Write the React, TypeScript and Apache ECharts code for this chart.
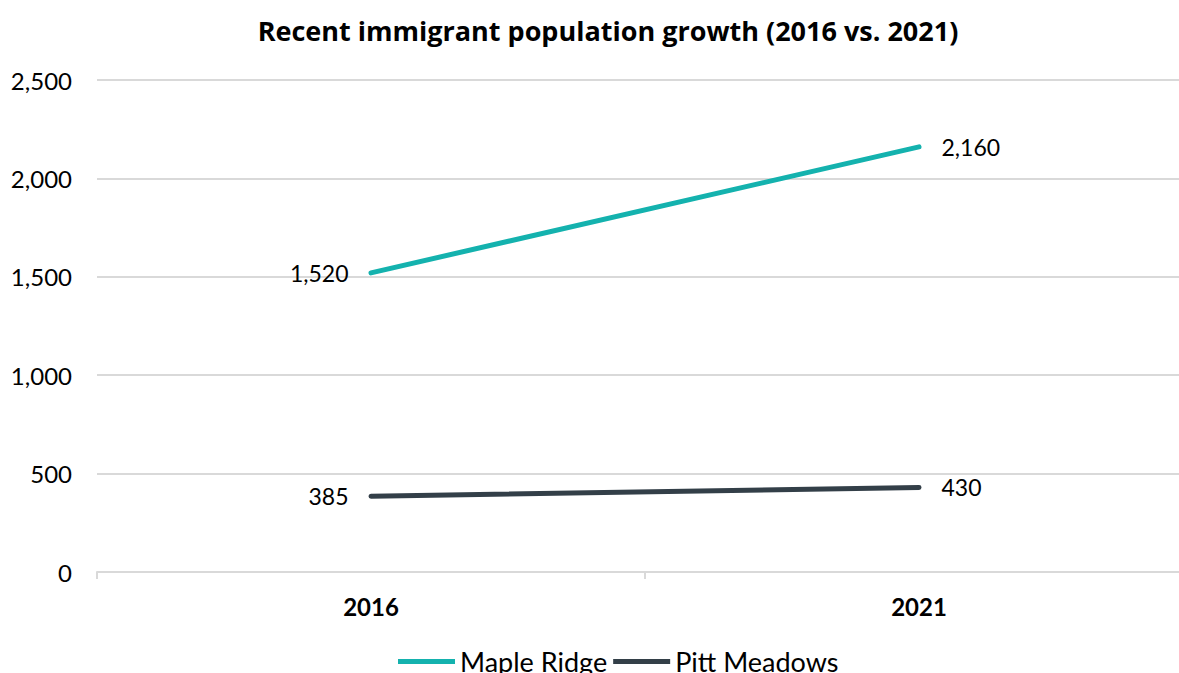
import React, { useEffect, useRef } from "react";
import * as echarts from "echarts";

const categories = ["2016", "2021"];
const mapleRidge = [1520, 2160];
const pittMeadows = [385, 430];
const seriesNames = ["Maple Ridge", "Pitt Meadows"];
const colors = ["#14b2ae", "#333f48"];

export default function App() {
  const ref = useRef<HTMLDivElement>(null);
  useEffect(() => {
    document.body.style.margin = "0";
    document.body.style.overflow = "hidden";
    const chart = echarts.init(ref.current!, null, { renderer: "svg" });
    const font = "Lato, 'Open Sans', sans-serif";
    const fmt = (v: number) => v.toLocaleString("en-US");
    const labelFor = (data: number[]) =>
      data.map((v, i) => ({
        value: v,
        label: {
          show: true,
          position: i === 0 ? "left" : "right",
          distance: 22,
          formatter: () => fmt(v),
          fontSize: 23,
          color: "#000",
          fontFamily: font,
        },
      }));
    const mkSeries = (name: string, data: number[], color: string) => ({
      name,
      type: "line",
      data: labelFor(data),
      symbol: "circle",
      symbolSize: 1,
      showSymbol: true,
      lineStyle: { width: 5, color, cap: "round" },
      itemStyle: { color },
    });
    chart.setOption({
      animation: false,
      title: {
        text: "Recent immigrant population growth (2016 vs. 2021)",
        left: 603,
        textAlign: "center",
        top: 12,
        textStyle: { fontFamily: "'Open Sans', sans-serif", fontWeight: "bold", fontSize: 27, color: "#000" },
      },
      legend: {
        data: seriesNames,
        top: 643,
        left: 393,
        icon: "rect",
        itemWidth: 57,
        itemHeight: 5,
        itemGap: 6,
        textStyle: { fontFamily: font, fontSize: 27, color: "#000" },
      },
      grid: { left: 97, right: 0, top: 80, bottom: 101, containLabel: false },
      xAxis: {
        type: "category",
        data: categories,
        boundaryGap: true,
        axisLine: { lineStyle: { color: "#d9d9d9", width: 2 } },
        axisTick: { show: true, length: 7, lineStyle: { color: "#d9d9d9", width: 2 } },
        axisLabel: { fontFamily: font, fontWeight: "bold", fontSize: 24, color: "#000", margin: 22 },
      },
      yAxis: {
        type: "value",
        min: 0,
        max: 2500,
        interval: 500,
        axisLine: { show: false },
        axisTick: { show: false },
        splitLine: { lineStyle: { color: "#d9d9d9", width: 2 } },
        axisLabel: {
          fontFamily: font,
          fontSize: 24,
          color: "#000",
          margin: 25,
          formatter: (v: number) => fmt(v),
        },
      },
      series: [
        mkSeries(seriesNames[0], mapleRidge, colors[0]),
        mkSeries(seriesNames[1], pittMeadows, colors[1]),
      ],
    });
    return () => chart.dispose();
  }, []);
  return <div ref={ref} style={{ position: "absolute", left: 0, top: 0, width: 1193, height: 673 }} />;
}
